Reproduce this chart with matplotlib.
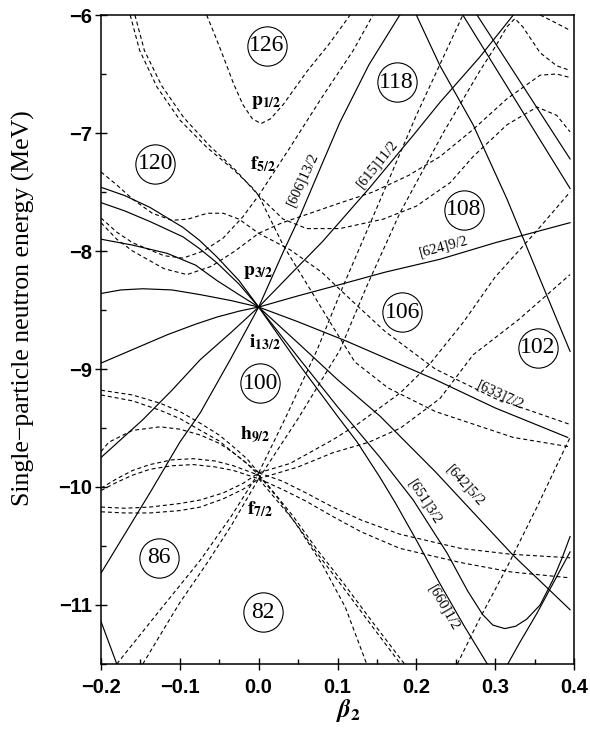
import matplotlib
matplotlib.use("Agg")
import matplotlib.pyplot as plt
from matplotlib.ticker import MultipleLocator, FuncFormatter

plt.rcParams["mathtext.fontset"] = "stix"
plt.rcParams["font.family"] = "Liberation Sans"
plt.rcParams["font.weight"] = "bold"

# -----------------------------------------------------------------------------
# Levels as (beta2, energy in MeV) points
# -----------------------------------------------------------------------------
# i13/2 on the prolate side, with their asymptotic labels
nil_606 = [(0, -8.475), (0.031, -8.01), (0.052, -7.71), (0.078, -7.3), (0.103, -6.91),
           (0.14, -6.42), (0.179, -6.0), (0.19, -5.95)]
nil_615 = [(0, -8.475), (0.04, -8.2), (0.081, -7.92), (0.14, -7.47), (0.196, -7.02),
           (0.23, -6.74), (0.28, -6.36), (0.323, -6.0)]
nil_624 = [(0, -8.475), (0.05, -8.38), (0.1, -8.29), (0.16, -8.18), (0.23, -8.07),
           (0.3, -7.93), (0.395, -7.76)]
nil_633 = [(0, -8.475), (0.05, -8.6), (0.11, -8.76), (0.224, -9.09), (0.3, -9.33),
           (0.392, -9.58)]
nil_642 = [(0, -8.475), (0.05, -8.78), (0.1, -9.09), (0.154, -9.4), (0.224, -9.87),
           (0.27, -10.2), (0.323, -10.58), (0.395, -11.04)]
nil_651 = [(0, -8.475), (0.05, -8.9), (0.1, -9.32), (0.154, -9.75), (0.196, -10.11),
           (0.239, -10.56), (0.265, -10.88), (0.284, -11.08), (0.297, -11.17),
           (0.312, -11.2), (0.326, -11.18), (0.34, -11.12), (0.357, -11.0),
           (0.373, -10.79), (0.385, -10.6), (0.395, -10.42)]
nil_660 = [(0, -8.475), (0.05, -8.95), (0.1, -9.4), (0.125, -9.62), (0.154, -9.92),
           (0.173, -10.13), (0.2, -10.45), (0.23, -10.82), (0.26, -11.17), (0.29, -11.5),
           (0.303, -11.6), (0.316, -11.5), (0.331, -11.32), (0.353, -11.07),
           (0.374, -10.81), (0.395, -10.55)]

# i13/2 on the oblate side (Omega = 1/2 ... 13/2, top to bottom at beta=-0.2)
i13_oblate = [
    [(-0.2, -7.46), (-0.17, -7.53), (-0.138, -7.63), (-0.096, -7.8), (-0.075, -7.91),
     (-0.053, -8.05), (-0.025, -8.25), (0, -8.475)],
    [(-0.2, -7.59), (-0.17, -7.66), (-0.138, -7.75), (-0.096, -7.88), (-0.075, -7.98),
     (-0.053, -8.1), (-0.025, -8.28), (0, -8.475)],
    [(-0.2, -7.9), (-0.16, -7.95), (-0.116, -8.02), (-0.08, -8.12), (-0.053, -8.25),
     (-0.025, -8.37), (0, -8.475)],
    [(-0.2, -8.36), (-0.175, -8.33), (-0.147, -8.32), (-0.11, -8.33), (-0.074, -8.37),
     (-0.035, -8.42), (0, -8.475)],
    [(-0.2, -8.95), (-0.158, -8.83), (-0.116, -8.71), (-0.08, -8.62), (-0.053, -8.56),
     (-0.025, -8.51), (0, -8.475)],
    [(-0.2, -9.75), (-0.147, -9.43), (-0.11, -9.18), (-0.074, -8.92), (-0.035, -8.69),
     (0, -8.475)],
    [(-0.2, -10.73), (-0.138, -10.05), (-0.1, -9.62), (-0.074, -9.37), (-0.036, -8.92),
     (0, -8.475)],
]

# other positive-parity levels entering from above / below
intruders = [
    [(0.19, -5.95), (0.2, -6.0), (0.23, -6.43), (0.272, -6.93), (0.315, -7.56),
     (0.357, -8.24), (0.395, -8.85)],
    [(0.259, -6.0), (0.395, -7.47)],
    [(0.277, -6.0), (0.395, -7.22)],
    [(-0.2, -11.14), (-0.18, -11.5)],
]

# negative-parity (N=5) levels from p1/2, f5/2, p3/2
upper_n5 = [
    [(-0.066, -6.0), (-0.055, -6.18), (-0.045, -6.35), (-0.032, -6.58), (-0.02, -6.76),
     (-0.008, -6.88), (0.003, -6.92), (0.015, -6.88), (0.031, -6.76), (0.046, -6.62),
     (0.061, -6.48), (0.09, -6.24), (0.116, -6.0)],
    [(-0.163, -6.0), (-0.151, -6.3), (-0.129, -6.61), (-0.1, -6.89), (-0.066, -7.12),
     (-0.032, -7.31), (-0.007, -7.47), (0.0, -7.53), (0.031, -7.95), (0.063, -8.3),
     (0.093, -8.63), (0.122, -8.94), (0.164, -9.16), (0.224, -9.36), (0.323, -9.58),
     (0.395, -9.66)],
    [(-0.157, -6.0), (-0.145, -6.3), (-0.123, -6.6), (-0.095, -6.87), (-0.062, -7.11),
     (-0.03, -7.31), (0.0, -7.53), (0.031, -7.73), (0.061, -7.81), (0.103, -7.81),
     (0.158, -7.73), (0.2, -7.62), (0.243, -7.42), (0.272, -7.2), (0.315, -6.93),
     (0.353, -6.78), (0.378, -6.85), (0.395, -6.99)],
    [(-0.2, -7.72), (-0.18, -7.84), (-0.16, -7.93), (-0.12, -8.04), (-0.096, -8.06),
     (-0.07, -8.0), (-0.045, -7.89), (-0.02, -7.71), (0.0, -7.53), (0.04, -7.12),
     (0.08, -6.7), (0.12, -6.3), (0.145, -6.0)],
    [(-0.2, -7.76), (-0.18, -7.9), (-0.16, -8.0), (-0.12, -8.15), (-0.091, -8.2),
     (-0.06, -8.13), (-0.03, -8.0), (0.0, -7.85), (0.03, -7.76), (0.061, -7.69),
     (0.1, -7.6), (0.145, -7.5), (0.19, -7.36), (0.23, -7.2), (0.272, -6.97),
     (0.315, -6.71), (0.357, -6.51), (0.378, -6.5), (0.395, -6.53)],
    [(-0.2, -7.33), (-0.18, -7.44), (-0.16, -7.56), (-0.135, -7.68), (-0.11, -7.74),
     (-0.09, -7.73), (-0.065, -7.68), (-0.045, -7.68), (-0.025, -7.73), (0.0, -7.85),
     (0.04, -7.99), (0.08, -8.18), (0.11, -8.37), (0.16, -8.68), (0.224, -9.0),
     (0.3, -9.25), (0.395, -9.47)],
]

# negative-parity levels from h9/2 and f7/2, prolate side
lower_n5_prolate = [
    [(0, -9.88), (0.035, -9.4), (0.074, -8.84), (0.107, -8.3), (0.145, -7.71),
     (0.2, -6.85), (0.259, -6.0)],
    [(0, -9.93), (0.05, -9.42), (0.103, -8.84), (0.137, -8.3), (0.179, -7.68),
     (0.234, -7.0), (0.28, -6.48), (0.3, -6.27), (0.315, -6.1), (0.325, -6.03),
     (0.335, -6.1), (0.345, -6.2), (0.357, -6.32), (0.378, -6.43), (0.395, -6.47)],
    [(0, -9.88), (0.04, -9.8), (0.094, -9.6), (0.125, -9.47), (0.18, -9.2),
     (0.218, -8.95), (0.26, -8.6), (0.3, -8.22), (0.35, -7.85), (0.395, -7.5)],
    [(0, -9.93), (0.05, -9.83), (0.094, -9.71), (0.14, -9.62), (0.18, -9.5),
     (0.23, -9.25), (0.272, -8.88), (0.33, -8.58), (0.395, -8.2)],
    [(0, -9.88), (0.03, -9.95), (0.06, -10.05), (0.094, -10.17), (0.13, -10.28),
     (0.179, -10.4), (0.256, -10.52), (0.32, -10.57), (0.395, -10.6)],
    [(0, -9.93), (0.03, -10.02), (0.06, -10.12), (0.094, -10.25), (0.13, -10.38),
     (0.179, -10.52), (0.256, -10.64), (0.32, -10.72), (0.395, -10.77)],
    [(0, -9.9), (0.025, -10.1), (0.052, -10.36), (0.081, -10.66), (0.11, -11.02),
     (0.137, -11.5)],
    [(0, -9.9), (0.01, -9.97), (0.044, -10.25), (0.074, -10.53), (0.107, -10.81),
     (0.145, -11.15), (0.185, -11.5)],
    [(0, -9.93), (0.044, -10.28), (0.074, -10.56), (0.107, -10.85), (0.145, -11.19),
     (0.18, -11.5)],
]

# negative-parity levels from h9/2 and f7/2, oblate side
lower_n5_oblate = [
    [(-0.2, -9.18), (-0.16, -9.22), (-0.125, -9.29), (-0.1, -9.36), (-0.074, -9.46),
     (-0.05, -9.56), (-0.032, -9.66), (-0.015, -9.76), (0, -9.88)],
    [(-0.2, -9.22), (-0.16, -9.27), (-0.125, -9.35), (-0.1, -9.42), (-0.074, -9.52),
     (-0.05, -9.61), (-0.032, -9.71), (-0.015, -9.8), (0, -9.9)],
    [(-0.2, -9.7), (-0.19, -9.62), (-0.16, -9.52), (-0.125, -9.49), (-0.1, -9.51),
     (-0.074, -9.56), (-0.05, -9.63), (-0.032, -9.71), (0, -9.88)],
    [(-0.2, -10.01), (-0.18, -9.93), (-0.16, -9.86), (-0.138, -9.81), (-0.11, -9.77),
     (-0.083, -9.76), (-0.055, -9.78), (-0.032, -9.82), (0, -9.9)],
    [(-0.2, -10.03), (-0.18, -9.96), (-0.16, -9.9), (-0.138, -9.85), (-0.11, -9.82),
     (-0.083, -9.81), (-0.055, -9.83), (-0.032, -9.86), (0, -9.93)],
    [(-0.2, -10.17), (-0.17, -10.18), (-0.138, -10.17), (-0.1, -10.14), (-0.074, -10.11),
     (-0.045, -10.05), (-0.02, -9.97), (0, -9.88)],
    [(-0.2, -10.21), (-0.17, -10.22), (-0.138, -10.22), (-0.1, -10.2), (-0.074, -10.17),
     (-0.045, -10.1), (-0.02, -10.02), (0, -9.93)],
    [(-0.18, -11.5), (-0.15, -11.25), (-0.12, -11.0), (-0.074, -10.62), (-0.035, -10.25),
     (0, -9.88)],
    [(-0.147, -11.5), (-0.12, -11.2), (-0.1, -10.98), (-0.066, -10.65), (-0.035, -10.33),
     (0, -9.93)],
]

# levels entering from above / below on the prolate side
outer_n5 = [
    [(0.357, -6.0), (0.375, -6.06), (0.395, -6.13)],
    [(0.252, -11.5), (0.28, -11.12), (0.315, -10.68), (0.353, -10.17), (0.395, -9.58)],
]

# circled shell gaps
magic_numbers = [126, 120, 118, 108, 106, 102, 100, 86, 82]
magic_beta = [0.010, -0.131, 0.175, 0.260, 0.182, 0.354, 0.002, -0.126, 0.005]
magic_energy = [-6.26, -7.26, -6.57, -7.65, -8.52, -8.82, -9.12, -10.60, -11.06]

# spherical-shell labels
shell_labels = [r"$\mathbf{p}_{\mathbf{1/2}}$", r"$\mathbf{f}_{\mathbf{5/2}}$",
                r"$\mathbf{p}_{\mathbf{3/2}}$", r"$\mathbf{i}_{\mathbf{13/2}}$",
                r"$\mathbf{h}_{\mathbf{9/2}}$", r"$\mathbf{f}_{\mathbf{7/2}}$"]
shell_beta = [0.010, 0.005, 0.0, 0.008, -0.005, 0.002]
shell_energy = [-6.74, -7.26, -8.18, -8.77, -9.56, -10.19]

# asymptotic Nilsson labels
nilsson_labels = ["[606]13/2", "[615]11/2", "[624]9/2", "[633]7/2",
                  "[642]5/2", "[651]3/2", "[660]1/2"]
nilsson_beta = [0.056, 0.150, 0.234, 0.307, 0.262, 0.211, 0.234]
nilsson_energy = [-7.39, -7.26, -7.96, -9.22, -9.99, -10.13, -11.02]
nilsson_angle = [65, 51, 15, -25, -48, -57, -60]

# -----------------------------------------------------------------------------
# Plot
# -----------------------------------------------------------------------------
fig = plt.figure(figsize=(5.9, 7.32), dpi=100)
ax = fig.add_axes([0.1712, 0.0929, 0.8017, 0.8866])

solid = [nil_606, nil_615, nil_624, nil_633, nil_642, nil_651, nil_660] + i13_oblate + intruders
dashed = upper_n5 + lower_n5_prolate + lower_n5_oblate + outer_n5

for curve in solid:
    b, e = zip(*curve)
    ax.plot(b, e, color="black", lw=0.85)
for curve in dashed:
    b, e = zip(*curve)
    ax.plot(b, e, color="black", lw=0.8, dashes=(3.6, 2.6))

ax.scatter(magic_beta, magic_energy, s=800, facecolors="white", edgecolors="black",
           linewidths=0.8, zorder=3)
for n, b, e in zip(magic_numbers, magic_beta, magic_energy):
    ax.text(b, e, str(n), ha="center", va="center", fontsize=17,
            family="Liberation Serif", fontweight="normal", zorder=4)

for lab, b, e in zip(shell_labels, shell_beta, shell_energy):
    ax.text(b, e, lab, ha="center", va="center", fontsize=14, zorder=4)

for lab, b, e, a in zip(nilsson_labels, nilsson_beta, nilsson_energy, nilsson_angle):
    ax.text(b, e, lab, ha="center", va="center", rotation=a, rotation_mode="anchor",
            fontsize=10.5, family="Liberation Serif", fontweight="normal", zorder=4)

ax.set_xlim(-0.2, 0.4)
ax.set_ylim(-11.5, -6.0)

ax.xaxis.set_major_locator(MultipleLocator(0.1))
ax.xaxis.set_minor_locator(MultipleLocator(0.05))
ax.yaxis.set_major_locator(MultipleLocator(1))
ax.yaxis.set_minor_locator(MultipleLocator(0.5))
ax.xaxis.set_major_formatter(FuncFormatter(
    lambda v, _: f"{0.0 if abs(v) < 1e-9 else v:.1f}".replace("-", "\u2212")))
ax.yaxis.set_major_formatter(FuncFormatter(lambda v, _: f"{v:.0f}".replace("-", "\u2212")))

ax.tick_params(which="major", direction="inout", length=8.5, width=1.0,
               labelsize=14.5, top=False, right=False)
ax.tick_params(which="minor", direction="in", length=3.8, width=1.0, top=False, right=False)
ax.tick_params(axis="x", which="major", pad=5.8)
ax.tick_params(axis="y", which="major", pad=2.5)
for sp in ax.spines.values():
    sp.set_linewidth(1.1)

ax.set_ylabel("Single\u2212particle neutron energy (MeV)", family="Liberation Serif",
              fontweight="normal", fontsize=18.5)
ax.yaxis.set_label_coords(-0.14, 0.549)
ax.set_xlabel(r"$\beta_2$", fontsize=18)
ax.xaxis.set_label_coords(0.524, -0.051)

fig.savefig("out.png", dpi=100)
